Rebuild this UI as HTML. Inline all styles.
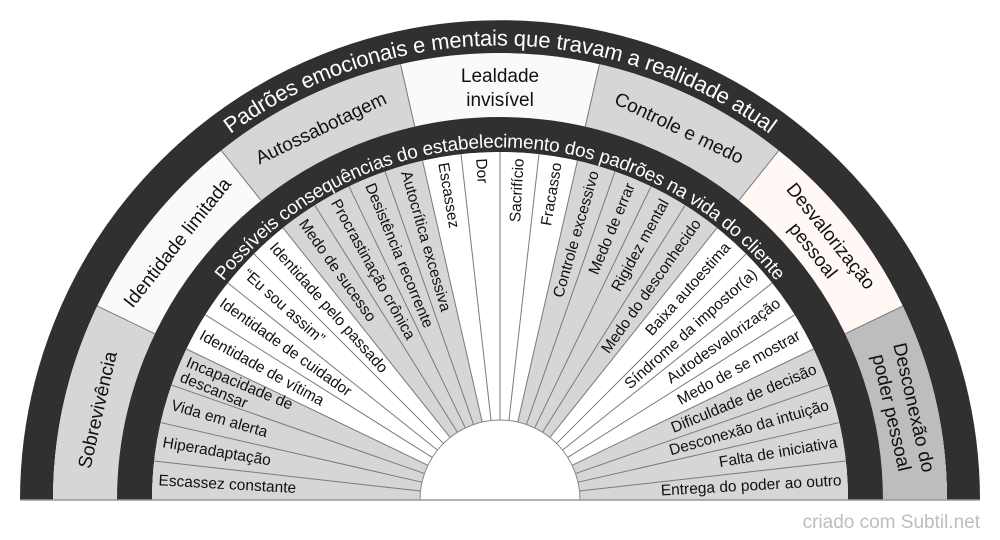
<!DOCTYPE html>
<html><head><meta charset="utf-8"><style>
html,body{margin:0;padding:0;background:#fff;}
svg{display:block;font-family:"Liberation Sans",Arial,sans-serif;}
.il{font-size:15.5px;fill:#111;}
.ol{font-size:19px;fill:#111;}
</style></head><body>
<svg width="1000" height="540" viewBox="0 0 1000 540" xmlns="http://www.w3.org/2000/svg">
<defs>
<path id="p462" d="M38,500 A462,462 0 0 1 962,500"/>
<path id="p359" d="M141,500 A359,359 0 0 1 859,500"/>
</defs>
<path d="M36.5,500 A463.5,463.5 0 0 1 963.5,500" fill="none" stroke="#303030" stroke-width="33"/>
<path d="M85,500 A415,415 0 0 1 915,500" fill="none" stroke="#fafafa" stroke-width="64"/>
<path d="M85,500 A415,415 0 0 1 915,500" pathLength="180" fill="none" stroke="#d6d6d6" stroke-width="64" stroke-dasharray="25.714 25.714"/>
<path d="M85,500 A415,415 0 0 1 915,500" pathLength="180" fill="none" stroke="#fff8f5" stroke-width="64" stroke-dasharray="0 128.571 25.714 200"/>
<path d="M85,500 A415,415 0 0 1 915,500" pathLength="180" fill="none" stroke="#bdbdbd" stroke-width="64" stroke-dasharray="0 154.286 25.714 200"/>
<path d="M134.5,500 A365.5,365.5 0 0 1 865.5,500" fill="none" stroke="#303030" stroke-width="35"/>
<path d="M286,500 A214,214 0 0 1 714,500" fill="none" stroke="#ffffff" stroke-width="268"/>
<path d="M286,500 A214,214 0 0 1 714,500" pathLength="180" fill="none" stroke="#d6d6d6" stroke-width="268" stroke-dasharray="25.714 25.714"/>
<g stroke="#7a7a7a" stroke-width="1">
<line x1="152" y1="500" x2="420" y2="500" transform="rotate(6.4286 500 500)"/>
<line x1="152" y1="500" x2="420" y2="500" transform="rotate(12.857 500 500)"/>
<line x1="152" y1="500" x2="420" y2="500" transform="rotate(19.286 500 500)"/>
<line x1="152" y1="500" x2="420" y2="500" transform="rotate(25.714 500 500)"/>
<line x1="152" y1="500" x2="420" y2="500" transform="rotate(32.143 500 500)"/>
<line x1="152" y1="500" x2="420" y2="500" transform="rotate(38.571 500 500)"/>
<line x1="152" y1="500" x2="420" y2="500" transform="rotate(45 500 500)"/>
<line x1="152" y1="500" x2="420" y2="500" transform="rotate(51.429 500 500)"/>
<line x1="152" y1="500" x2="420" y2="500" transform="rotate(57.857 500 500)"/>
<line x1="152" y1="500" x2="420" y2="500" transform="rotate(64.286 500 500)"/>
<line x1="152" y1="500" x2="420" y2="500" transform="rotate(70.714 500 500)"/>
<line x1="152" y1="500" x2="420" y2="500" transform="rotate(77.143 500 500)"/>
<line x1="152" y1="500" x2="420" y2="500" transform="rotate(83.571 500 500)"/>
<line x1="152" y1="500" x2="420" y2="500" transform="rotate(90 500 500)"/>
<line x1="152" y1="500" x2="420" y2="500" transform="rotate(96.429 500 500)"/>
<line x1="152" y1="500" x2="420" y2="500" transform="rotate(102.857 500 500)"/>
<line x1="152" y1="500" x2="420" y2="500" transform="rotate(109.286 500 500)"/>
<line x1="152" y1="500" x2="420" y2="500" transform="rotate(115.714 500 500)"/>
<line x1="152" y1="500" x2="420" y2="500" transform="rotate(122.143 500 500)"/>
<line x1="152" y1="500" x2="420" y2="500" transform="rotate(128.571 500 500)"/>
<line x1="152" y1="500" x2="420" y2="500" transform="rotate(135 500 500)"/>
<line x1="152" y1="500" x2="420" y2="500" transform="rotate(141.429 500 500)"/>
<line x1="152" y1="500" x2="420" y2="500" transform="rotate(147.857 500 500)"/>
<line x1="152" y1="500" x2="420" y2="500" transform="rotate(154.286 500 500)"/>
<line x1="152" y1="500" x2="420" y2="500" transform="rotate(160.714 500 500)"/>
<line x1="152" y1="500" x2="420" y2="500" transform="rotate(167.143 500 500)"/>
<line x1="152" y1="500" x2="420" y2="500" transform="rotate(173.571 500 500)"/>
</g>
<g stroke="#7a7a7a" stroke-width="1">
<line x1="53" y1="500" x2="117" y2="500" transform="rotate(25.714 500 500)"/>
<line x1="53" y1="500" x2="117" y2="500" transform="rotate(51.429 500 500)"/>
<line x1="53" y1="500" x2="117" y2="500" transform="rotate(77.143 500 500)"/>
<line x1="53" y1="500" x2="117" y2="500" transform="rotate(102.857 500 500)"/>
<line x1="53" y1="500" x2="117" y2="500" transform="rotate(128.571 500 500)"/>
<line x1="53" y1="500" x2="117" y2="500" transform="rotate(154.286 500 500)"/>
</g>
<path d="M420,500 A80,80 0 0 1 580,500 Z" fill="#fff" stroke="#888" stroke-width="1"/>
<line x1="20" y1="500" x2="980" y2="500" stroke="#999" stroke-width="1.5"/>

<text font-size="22" fill="#fff" dy="7.5"><textPath href="#p462" startOffset="50%" text-anchor="middle">Padrões emocionais e mentais que travam a realidade atual</textPath></text>
<text font-size="19" fill="#fff" dy="6.5"><textPath href="#p359" startOffset="50%" text-anchor="middle">Possíveis consequências do estabelecimento dos padrões na vida do cliente</textPath></text>

<text class="ol" text-anchor="middle" dominant-baseline="central" transform="translate(98.3 410) rotate(-77.14)">Sobrevivência</text>
<text class="ol" text-anchor="middle" dominant-baseline="central" transform="translate(177.9 243.1) rotate(-51.43)">Identidade limitada</text>
<text class="ol" text-anchor="middle" dominant-baseline="central" transform="translate(321.2 128.8) rotate(-25.71)">Autossabotagem</text>
<text class="ol" text-anchor="middle" transform="translate(500 88)"><tspan x="0" y="-6">Lealdade</tspan><tspan x="0" y="18">invisível</tspan></text>
<text class="ol" text-anchor="middle" dominant-baseline="central" transform="translate(678.8 128.8) rotate(25.71)">Controle e medo</text>
<text class="ol" text-anchor="middle" transform="translate(822.1 243.1) rotate(51.43)"><tspan x="0" y="-5">Desvalorização</tspan><tspan x="0" y="18">pessoal</tspan></text>
<text class="ol" text-anchor="middle" transform="translate(903 410) rotate(77.14)"><tspan x="0" y="-5">Desconexão do</tspan><tspan x="0" y="18">poder pessoal</tspan></text>

<g class="il" dominant-baseline="central">
<text transform="translate(158.5 480.8) rotate(3.214)">Escassez constante</text>
<text transform="translate(162.8 442.7) rotate(9.643)">Hiperadaptação</text>
<text transform="translate(171.4 405.3) rotate(16.071)">Vida em alerta</text>
<text transform="translate(184 369.1) rotate(22.5)"><tspan x="0" y="-8">Incapacidade de</tspan><tspan x="0" y="8">descansar</tspan></text>
<text transform="translate(200.6 334.6) rotate(28.929)">Identidade de vítima</text>
<text transform="translate(221.1 302) rotate(35.357)">Identidade de cuidador</text>
<text transform="translate(245 272.1) rotate(41.786)">“Eu sou assim”</text>
<text transform="translate(272.1 245) rotate(48.214)">Identidade pelo passado</text>
<text transform="translate(302 221.1) rotate(54.643)">Medo de sucesso</text>
<text transform="translate(334.6 200.6) rotate(61.071)">Procrastinação crônica</text>
<text transform="translate(369.1 184) rotate(67.5)">Desistência recorrente</text>
<text transform="translate(405.3 171.4) rotate(73.929)">Autocrítica excessiva</text>
<text transform="translate(442.7 162.8) rotate(80.357)">Escassez</text>
<text transform="translate(480.8 158.5) rotate(86.786)">Dor</text>
</g>
<g class="il" dominant-baseline="central" text-anchor="end">
<text transform="translate(519.2 158.5) rotate(-86.786)">Sacrifício</text>
<text transform="translate(557.3 162.8) rotate(-80.357)">Fracasso</text>
<text transform="translate(594.7 171.4) rotate(-73.929)">Controle excessivo</text>
<text transform="translate(630.9 184) rotate(-67.5)">Medo de errar</text>
<text transform="translate(665.4 200.6) rotate(-61.071)">Rigidez mental</text>
<text transform="translate(698 221.1) rotate(-54.643)">Medo do desconhecido</text>
<text transform="translate(727.9 245) rotate(-48.214)">Baixa autoestima</text>
<text transform="translate(755 272.1) rotate(-41.786)">Síndrome da impostor(a)</text>
<text transform="translate(778.9 302) rotate(-35.357)">Autodesvalorização</text>
<text transform="translate(799.4 334.6) rotate(-28.929)">Medo de se mostrar</text>
<text transform="translate(816 369.1) rotate(-22.5)">Dificuldade de decisão</text>
<text transform="translate(828.6 405.3) rotate(-16.071)">Desconexão da intuição</text>
<text transform="translate(837.2 442.7) rotate(-9.643)">Falta de iniciativa</text>
<text transform="translate(841.5 480.8) rotate(-3.214)">Entrega do poder ao outro</text>
</g>

<text x="980" y="528" text-anchor="end" font-size="19" fill="#bdbdbd">criado com Subtil.net</text>
</svg>
</body></html>
